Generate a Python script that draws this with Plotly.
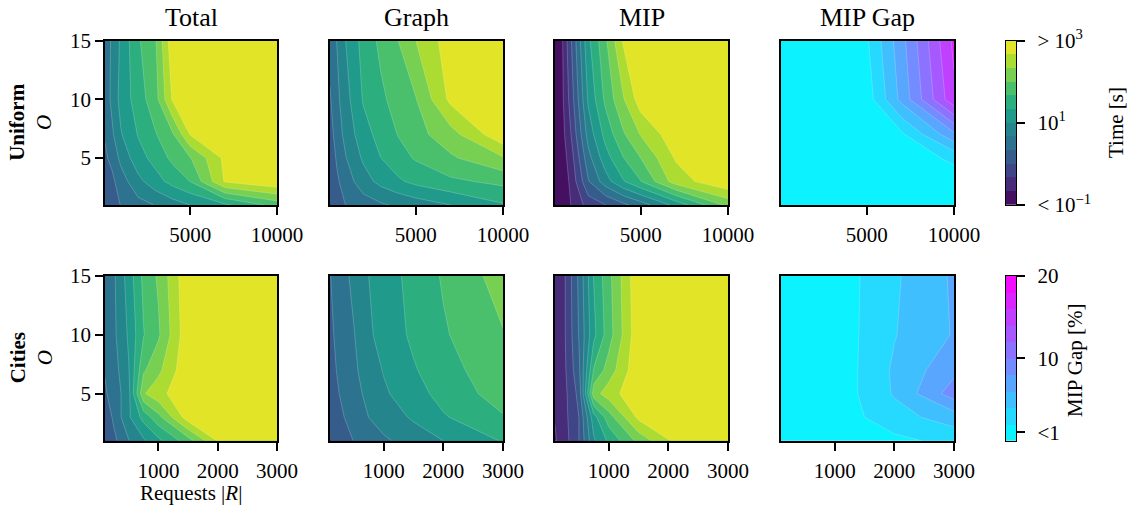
import plotly.graph_objects as go
from plotly.colors import sample_colorscale

W, H = 1135, 512
FONT = "Liberation Serif"

# ---------------- data ----------------
O_vals = [1, 3, 5, 7, 10, 15]
R_uniform = [100, 500, 1000, 2000, 3000, 4000, 5000, 7000, 10000]
R_cities = [100, 250, 500, 750, 1000, 1500, 2000, 3000]

# log10(time [s]); rows follow O_vals, columns follow R
uniform_total = [
    [0.10, 0.22, 0.34, 0.55, 0.68, 0.85, 1.00, 1.27, 1.80],
    [0.15, 0.25, 0.50, 0.90, 1.20, 1.45, 1.67, 2.70, 2.95],
    [0.28, 0.42, 0.75, 1.20, 1.45, 1.75, 1.98, 2.75, 2.95],
    [0.36, 0.60, 0.97, 1.35, 1.64, 1.96, 2.68, 2.95, 2.95],
    [0.45, 0.75, 1.10, 1.50, 1.87, 2.72, 2.95, 2.95, 2.95],
    [0.50, 0.71, 1.05, 1.62, 1.96, 2.92, 2.95, 2.95, 2.95],
]
uniform_graph = [
    [0.02, 0.18, 0.34, 0.50, 0.62, 0.72, 0.82, 1.00, 1.30],
    [0.05, 0.28, 0.50, 0.85, 1.10, 1.28, 1.42, 1.60, 1.75],
    [0.12, 0.38, 0.65, 1.05, 1.33, 1.53, 1.70, 1.95, 2.30],
    [0.20, 0.48, 0.78, 1.20, 1.45, 1.68, 1.88, 2.20, 2.93],
    [0.30, 0.58, 0.88, 1.36, 1.60, 1.80, 1.98, 2.75, 2.95],
    [0.45, 0.68, 1.00, 1.45, 1.74, 2.00, 2.33, 2.85, 2.95],
]
uniform_mip = [
    [-0.97, -0.93, -0.67, -0.20, 0.00, 0.25, 0.50, 1.10, 2.10],
    [-0.97, -0.90, -0.60, 0.30, 0.85, 1.30, 1.65, 2.50, 2.95],
    [-0.95, -0.85, -0.50, 0.55, 1.20, 1.65, 2.00, 2.70, 2.95],
    [-0.92, -0.80, -0.35, 0.80, 1.45, 1.95, 2.35, 2.90, 2.95],
    [-0.90, -0.75, -0.20, 1.05, 1.75, 2.30, 2.85, 2.95, 2.95],
    [-0.90, -0.72, -0.05, 1.25, 1.95, 2.70, 2.95, 2.95, 2.95],
]
# MIP gap [%]
uniform_gap = [
    [0.3, 0.3, 0.3, 0.3, 0.3, 0.3, 0.3, 0.3, 0.3],
    [0.3, 0.3, 0.3, 0.3, 0.3, 0.3, 0.3, 0.3, 0.8],
    [0.3, 0.3, 0.3, 0.3, 0.3, 0.3, 0.3, 0.5, 2.5],
    [0.3, 0.3, 0.3, 0.3, 0.3, 0.3, 0.3, 1.6, 7.5],
    [0.3, 0.3, 0.3, 0.3, 0.3, 0.3, 0.9, 6.6, 15.5],
    [0.3, 0.3, 0.3, 0.3, 0.3, 0.3, 1.7, 7.3, 16.5],
]

cities_total = [
    [0.05, 0.25, 0.65, 0.95, 1.25, 1.85, 2.70, 2.95],
    [0.10, 0.40, 0.95, 1.45, 1.90, 2.85, 2.95, 2.95],
    [0.30, 0.45, 0.90, 2.30, 2.55, 2.95, 2.95, 2.95],
    [0.35, 0.52, 0.98, 1.95, 2.25, 2.94, 2.95, 2.95],
    [0.40, 0.60, 1.05, 1.65, 1.95, 2.92, 2.95, 2.95],
    [0.45, 0.62, 1.15, 1.75, 2.05, 2.95, 2.95, 2.95],
]
cities_graph = [
    [0.05, 0.20, 0.34, 0.50, 0.62, 0.80, 1.00, 1.36],
    [0.15, 0.27, 0.45, 0.67, 0.80, 1.05, 1.30, 1.64],
    [0.20, 0.33, 0.55, 0.76, 0.95, 1.20, 1.45, 1.82],
    [0.22, 0.38, 0.60, 0.85, 1.02, 1.30, 1.53, 1.90],
    [0.25, 0.45, 0.65, 0.95, 1.12, 1.40, 1.63, 1.98],
    [0.32, 0.50, 0.75, 1.00, 1.16, 1.45, 1.70, 2.15],
]
cities_mip = [
    [-0.70, -0.50, 0.00, 0.95, 1.40, 2.10, 2.65, 2.95],
    [-0.65, -0.45, 0.00, 1.20, 1.85, 2.75, 2.95, 2.95],
    [-0.60, -0.45, 0.10, 2.20, 2.50, 2.95, 2.95, 2.95],
    [-0.60, -0.42, 0.25, 1.70, 2.15, 2.94, 2.95, 2.95],
    [-0.60, -0.40, 0.35, 1.25, 1.85, 2.92, 2.95, 2.95],
    [-0.60, -0.40, 0.40, 1.35, 1.90, 2.95, 2.95, 2.95],
]
cities_gap = [
    [0.2, 0.2, 0.2, 0.2, 0.2, 0.8, 1.5, 2.6],
    [0.2, 0.2, 0.2, 0.2, 0.2, 2.0, 3.2, 5.0],
    [0.3, 0.3, 0.3, 0.3, 0.3, 2.5, 4.2, 9.0],
    [0.3, 0.3, 0.3, 0.3, 0.3, 2.5, 4.3, 7.5],
    [0.3, 0.3, 0.3, 0.3, 0.3, 2.4, 3.9, 6.15],
    [0.3, 0.3, 0.3, 0.3, 0.3, 2.3, 3.7, 6.3],
]

col_titles = ["Total", "Graph", "MIP", "MIP Gap"]
row_titles = ["<b>Uniform</b><br><i>O</i>", "<b>Cities</b><br><i>O</i>"]
uniform_xticks = [5000, 10000]
cities_xticks = [1000, 2000, 3000]
o_ticks = [5, 10, 15]

time_levels = [-1 + i / 3 for i in range(13)]      # log10 seconds
gap_levels = list(range(0, 22, 2))                  # percent
time_tickvals = [-1, 1, 3]
time_ticktext = ["< 10<sup>−1</sup>", "10<sup>1</sup>", "> 10<sup>3</sup>"]
gap_tickvals = [1, 10, 20]
gap_ticktext = ["<1", "10", "20"]

# ---------------- colours ----------------
time_colors = sample_colorscale("Viridis", [(k + 0.5) / 12 for k in range(12)])
gap_colors = []
for k in range(10):
    t = (k + 0.5) / 10
    gap_colors.append("rgb(%d,%d,255)" % (round(255 * t), round(255 * (1 - t))))


def contour_scale(colors):
    n = len(colors) + 1
    sc = [[0.0, colors[0]]]
    for k, c in enumerate(colors):
        sc.append([(k + 1) / n, c])
    sc.append([1.0, colors[-1]])
    return sc


def bar_scale(colors):
    n = len(colors) - 1
    return [[k / n, c] for k, c in enumerate(colors)]


# ---------------- layout geometry ----------------
col_px = [(105, 277), (330, 503), (555, 728), (781, 954)]
row_px = [(40.7, 205), (276, 440.7)]
cbar_px = (1006, 1016)


def xd(a, b):
    return [a / W, b / W]


def yd(a, b):
    return [1 - b / H, 1 - a / H]


fig = go.Figure()
layout = dict(
    template="none",
    width=W, height=H, margin=dict(l=0, r=0, t=0, b=0, autoexpand=False),
    paper_bgcolor="white", plot_bgcolor="white",
    font=dict(family=FONT, size=21, color="black"),
    showlegend=False,
)

axis_common = dict(showline=True, mirror=True, linecolor="black", linewidth=1.6,
                   showgrid=False, zeroline=False, ticks="outside", ticklen=8,
                   tickwidth=1.5, tickcolor="black", automargin=False,
                   tickfont=dict(family=FONT, size=21, color="black"))

panels = [
    [uniform_total, uniform_graph, uniform_mip, uniform_gap],
    [cities_total, cities_graph, cities_mip, cities_gap],
]
row_R = [R_uniform, R_cities]
row_xticks = [uniform_xticks, cities_xticks]

idx = 0
for r in range(2):
    for c in range(4):
        idx += 1
        sfx = "" if idx == 1 else str(idx)
        is_gap = c == 3
        levels = gap_levels if is_gap else time_levels
        colors = gap_colors if is_gap else time_colors
        fig.add_trace(go.Contour(
            x=row_R[r], y=O_vals, z=panels[r][c],
            xaxis="x" + sfx, yaxis="y" + sfx,
            autocontour=False,
            contours=dict(start=levels[0], end=levels[-1],
                          size=levels[1] - levels[0], coloring="fill"),
            colorscale=contour_scale(colors), showscale=False,
            line=dict(width=0.6, color="rgba(255,255,255,0.35)", smoothing=0),
            hoverinfo="skip",
        ))
        xa = dict(axis_common, domain=xd(*col_px[c]), anchor="y" + sfx,
                  range=[row_R[r][0], row_R[r][-1]], tickmode="array",
                  tickvals=row_xticks[r], ticktext=[str(v) for v in row_xticks[r]],
                  ticklabelstandoff=2)
        ya = dict(axis_common, domain=yd(*row_px[r]), anchor="x" + sfx,
                  range=[O_vals[0], O_vals[-1]], tickmode="array",
                  tickvals=o_ticks, ticktext=[str(v) for v in o_ticks])
        if c != 0:
            ya["showticklabels"] = False
            ya["ticks"] = ""
        layout["xaxis" + sfx] = xa
        layout["yaxis" + sfx] = ya

# ---------------- colour bars ----------------
bars = [
    (time_levels, time_colors, time_tickvals, time_ticktext, row_px[0]),
    (gap_levels, gap_colors, gap_tickvals, gap_ticktext, row_px[1]),
]
for b, (levels, colors, tv, tt, (ya0, ya1)) in enumerate(bars):
    idx += 1
    sfx = str(idx)
    fig.add_trace(go.Heatmap(
        x=[0, 1], y=levels, z=[[k] for k in range(len(colors))],
        xaxis="x" + sfx, yaxis="y" + sfx,
        colorscale=bar_scale(colors), zmin=0, zmax=len(colors) - 1,
        showscale=False, hoverinfo="skip",
    ))
    layout["xaxis" + sfx] = dict(domain=xd(*cbar_px), anchor="y" + sfx, range=[0, 1],
                                 showline=True, mirror=True, linecolor="black",
                                 linewidth=1.4, showgrid=False, zeroline=False,
                                 showticklabels=False, ticks="", automargin=False)
    layout["yaxis" + sfx] = dict(axis_common, domain=yd(ya0, ya1), anchor="x" + sfx,
                                 side="right", range=[levels[0], levels[-1]],
                                 tickmode="array", tickvals=tv, ticktext=tt,
                                 linewidth=1.4, ticklabelstandoff=8)

# ---------------- text ----------------
ann = []
for c, t in enumerate(col_titles):
    a, b = col_px[c]
    ann.append(dict(text=t, x=(a + b) / 2 / W, y=1 - 17 / H, xref="paper", yref="paper",
                    xanchor="center", yanchor="middle", showarrow=False,
                    font=dict(family=FONT, size=26, color="black")))
for r, t in enumerate(row_titles):
    a, b = row_px[r]
    ann.append(dict(text=t, x=31 / W, y=1 - (a + b) / 2 / H, xref="paper", yref="paper",
                    xanchor="center", yanchor="middle", showarrow=False, textangle=-90,
                    font=dict(family=FONT, size=21, color="black")))
ann.append(dict(text="Requests |<i>R</i>|", x=191 / W, y=1 - 493 / H, xref="paper",
                yref="paper", xanchor="center", yanchor="middle", showarrow=False,
                font=dict(family=FONT, size=21, color="black")))
ann.append(dict(text="Time [s]", x=1116 / W, y=1 - 123 / H, xref="paper", yref="paper",
                xanchor="center", yanchor="middle", showarrow=False, textangle=-90,
                font=dict(family=FONT, size=21, color="black")))
ann.append(dict(text="MIP Gap [%]", x=1075 / W, y=1 - 360 / H, xref="paper", yref="paper",
                xanchor="center", yanchor="middle", showarrow=False, textangle=-90,
                font=dict(family=FONT, size=21, color="black")))
layout["annotations"] = ann

fig.update_layout(**layout)
fig.write_html("out.html")
